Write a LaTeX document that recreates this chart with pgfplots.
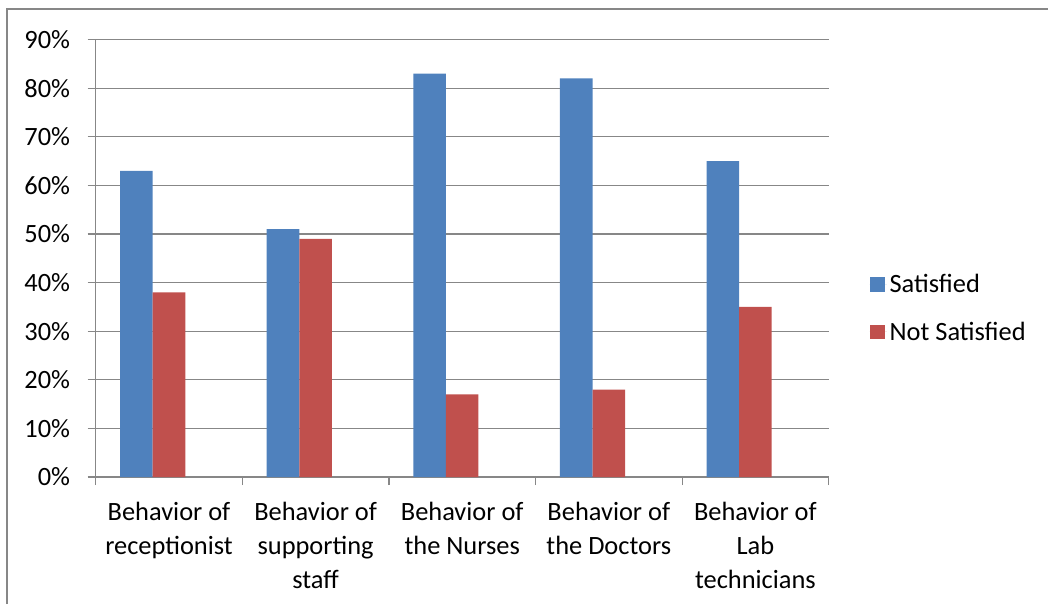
\documentclass[border=0pt]{standalone}
\usepackage{pgfplots}
\pgfplotsset{compat=1.18}
\usepackage{fontspec}
\setmainfont{Carlito}
\definecolor{sat}{HTML}{4F81BD}
\definecolor{notsat}{HTML}{C0504D}
\definecolor{gridgrey}{HTML}{878787}
\begin{document}
\begin{tikzpicture}
\useasboundingbox (0,0) rectangle (786pt,453pt);
\draw[gridgrey, line width=1.5pt] (5.25pt,0) -- (5.25pt,446.25pt) -- (786pt,446.25pt);
\begin{axis}[
  at={(71.78pt,95.25pt)}, anchor=south west,
  scale only axis, width=549.75pt, height=328.1pt,
  xmin=-0.5, xmax=4.5, ymin=0, ymax=90,
  axis x line*=bottom, axis y line*=left,
  axis line style={gridgrey, line width=0.9pt, -},
  ytick={0,10,...,90},
  yticklabels={0\%,10\%,20\%,30\%,40\%,50\%,60\%,70\%,80\%,90\%},
  ymajorgrids, major grid style={gridgrey, line width=0.9pt},
  xtick={0,1,2,3,4},
  xticklabels={{Behavior of\\receptionist},{Behavior of\\supporting\\staff},{Behavior of\\the Nurses},{Behavior of\\the Doctors},{Behavior of\\Lab\\technicians}},
  minor xtick={-0.5,0.5,1.5,2.5,3.5,4.5},
  tick align=outside,
  major tick length=6pt, minor tick length=6pt,
  x tick style={draw=none},
  minor x tick style={draw=gridgrey, line width=0.9pt},
  y tick style={draw=gridgrey, line width=0.9pt},
  tick label style={font=\fontsize{19.8}{25.5}\selectfont, text=black},
  yticklabel style={inner sep=0pt, anchor=east, xshift=-13pt},
  xticklabel style={align=center, inner sep=0pt, anchor=north, yshift=-12.5pt},
  ybar, bar width=0.2222,
  legend style={draw=none, at={(1.050,0.386)}, anchor=west,
    font=\fontsize{19.8}{24}\selectfont, row sep=16.5pt,
    legend cell align=left},
  legend image code/.code={\fill[#1] (0pt,-5.6pt) rectangle (11.25pt,5.6pt); \path (0pt,0pt) -- (13pt,0pt);},
]
\addplot[fill=sat, draw=none, bar shift=-0.2222] coordinates {(0,63) (1,51) (2,83) (3,82) (4,65)};
\addplot[fill=notsat, draw=none, bar shift=0] coordinates {(0,38) (1,49) (2,17) (3,18) (4,35)};
\legend{Satisfied, Not Satisfied}
\end{axis}
\end{tikzpicture}
\end{document}
